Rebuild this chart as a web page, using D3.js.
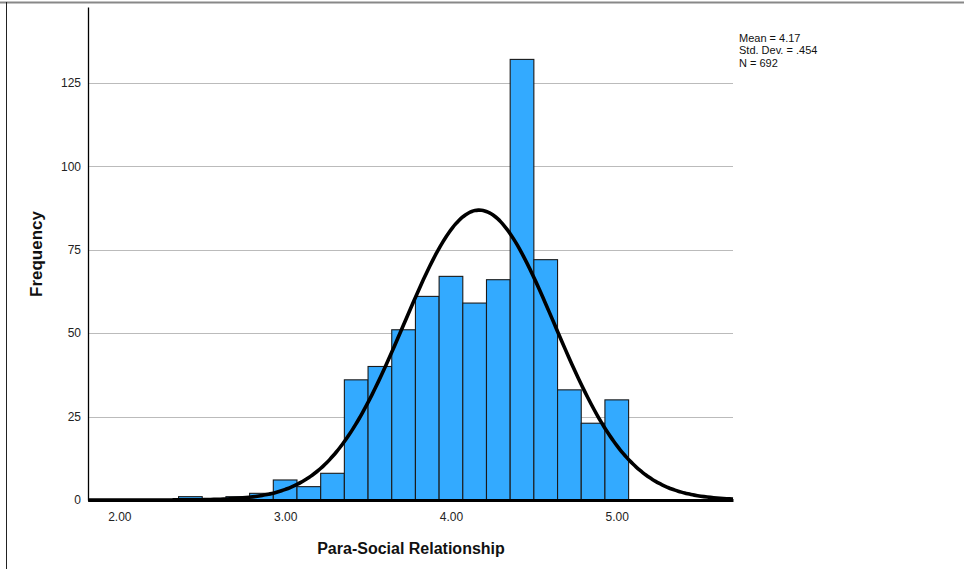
<!DOCTYPE html>
<html>
<head>
<meta charset="utf-8">
<script src="https://cdn.jsdelivr.net/npm/d3@7"></script>
<style>
  body { margin: 0; background: #fff; }
  svg { display: block; font-family: 'Liberation Sans', Arial, sans-serif; }
</style>
</head>
<body>
<svg id="chart" width="964" height="569"></svg>
<script>
// bins are 1/7 wide, centred on k/7
var bin_k = [17, 19, 20, 21, 22, 23, 24, 25, 26, 27, 28, 29, 30, 31, 32, 33, 34, 35]
var bin_counts = [1, 1, 2, 6, 4, 8, 36, 40, 51, 61, 67, 59, 66, 132, 72, 33, 23, 30]
var x_ticks = [2, 3, 4, 5]
var y_ticks = [0, 25, 50, 75, 100, 125]
var stats_lines = ['Mean = 4.17', 'Std. Dev. = .454', 'N = 692']
var mean = 4.17
var sd = 0.454
var n = 692

var bin_w = 1 / 7
var svg = d3.select('#chart')

// plot box (note: "top" is reserved on window)
var p_left = 88, p_right = 733, p_top = 7, p_bottom = 500

var x = d3.scaleLinear().domain([1.811, 5.701]).range([p_left, p_right])
var y = d3.scaleLinear().domain([0, 147.7]).range([p_bottom, p_top])

// frame
svg.append('line').attr('x1', 0).attr('x2', 964).attr('y1', 2.5).attr('y2', 2.5)
  .attr('stroke', '#888').attr('stroke-width', 2)
svg.append('line').attr('x1', 6.5).attr('x2', 6.5).attr('y1', 2).attr('y2', 569)
  .attr('stroke', '#222').attr('stroke-width', 1)

// gridlines
svg.append('g').selectAll('line').data(y_ticks.filter(function (d) { return d > 0 }))
  .enter().append('line')
  .attr('x1', p_left).attr('x2', p_right)
  .attr('y1', function (d) { return Math.round(y(d)) + 0.5 })
  .attr('y2', function (d) { return Math.round(y(d)) + 0.5 })
  .attr('stroke', '#bbb').attr('stroke-width', 1)

// bars
svg.append('g').selectAll('rect').data(bin_k)
  .enter().append('rect')
  .attr('x', function (k) { return x(k / 7 - bin_w / 2) })
  .attr('width', function (k) { return x(k / 7 + bin_w / 2) - x(k / 7 - bin_w / 2) })
  .attr('y', function (k, i) { return y(bin_counts[i]) })
  .attr('height', function (k, i) { return p_bottom - y(bin_counts[i]) })
  .attr('fill', '#33aaff')
  .attr('stroke', '#1a1a1a')
  .attr('stroke-width', 1.1)

// y axis
var y_axis = d3.axisLeft(y).tickValues(y_ticks).tickSize(0).tickPadding(7)
var gy = svg.append('g').attr('transform', 'translate(' + p_left + ',0)').call(y_axis)
gy.select('.domain').attr('stroke', '#000').attr('stroke-width', 1.3)
gy.selectAll('text').style('font-size', '12px').attr('fill', '#222')
  .attr('font-family', "'Liberation Sans', Arial, sans-serif")

// normal curve
var pts = d3.range(0, 201).map(function (i) { return 1.811 + i * (5.701 - 1.811) / 200 })
var line = d3.line()
  .x(function (v) { return x(v) })
  .y(function (v) {
    var z = (v - mean) / sd
    return y(n * bin_w * Math.exp(-0.5 * z * z) / (sd * Math.sqrt(2 * Math.PI)))
  })
  .curve(d3.curveBasis)
svg.append('path').datum(pts).attr('d', line)
  .attr('fill', 'none').attr('stroke', '#000').attr('stroke-width', 3.6)

// x axis
var x_axis = d3.axisBottom(x).tickValues(x_ticks).tickSize(0).tickPadding(12)
  .tickFormat(d3.format('.2f'))
var gx = svg.append('g').attr('transform', 'translate(0,' + p_bottom + ')').call(x_axis)
gx.select('.domain').attr('stroke', '#000').attr('stroke-width', 3)
gx.selectAll('text').style('font-size', '12px').attr('fill', '#222')
  .attr('font-family', "'Liberation Sans', Arial, sans-serif")

// axis titles
svg.append('text').text('Para-Social Relationship')
  .attr('x', 411).attr('y', 554)
  .attr('text-anchor', 'middle')
  .style('font-size', '16px').style('font-weight', 'bold').attr('fill', '#111')
svg.append('text').text('Frequency')
  .attr('transform', 'translate(42,254) rotate(-90)')
  .attr('text-anchor', 'middle')
  .style('font-size', '17px').style('font-weight', 'bold').attr('fill', '#111')

// stats box
svg.append('g').selectAll('text').data(stats_lines)
  .enter().append('text')
  .text(function (d) { return d })
  .attr('x', 739)
  .attr('y', function (d, i) { return 42 + i * 12.3 })
  .style('font-size', '11px').attr('fill', '#111')
</script>
</body>
</html>
